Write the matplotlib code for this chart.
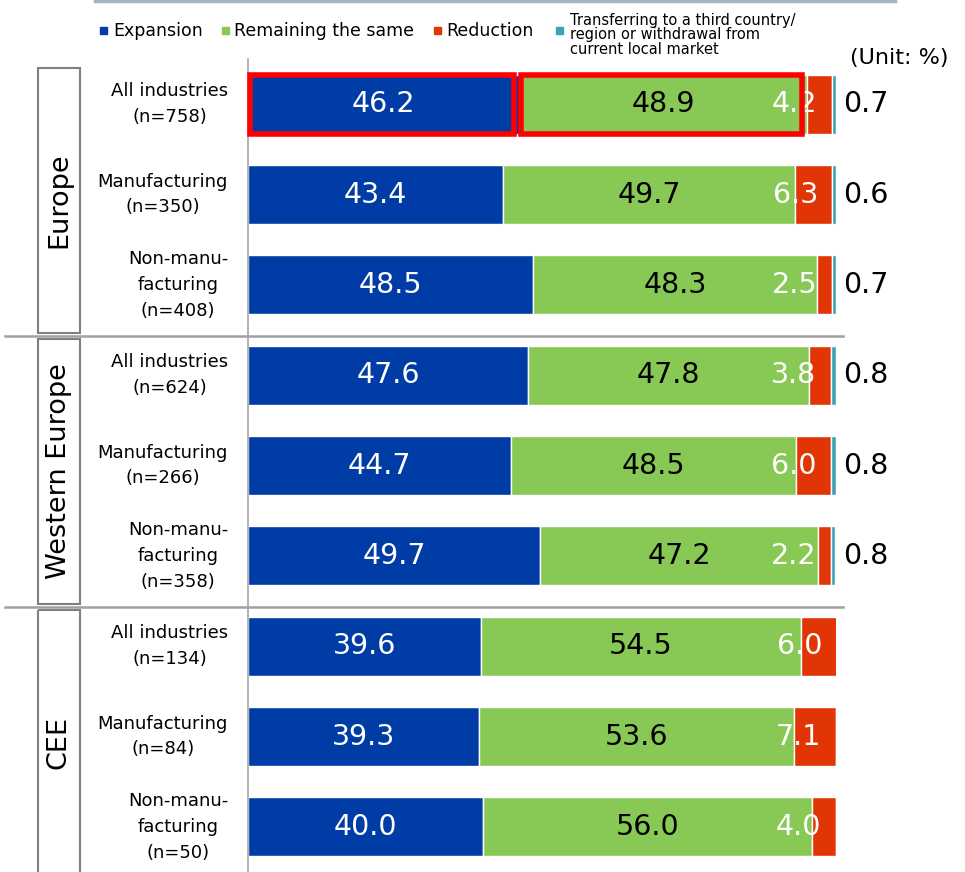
import numpy as np
import matplotlib.pyplot as plt
from matplotlib.patches import Rectangle
from matplotlib.lines import Line2D

# data (Unit: %)
regions = ['Europe', 'Western Europe', 'CEE']
categories = ['All industries\n(n=758)', 'Manufacturing\n(n=350)', 'Non-manu-\nfacturing\n(n=408)',
              'All industries\n(n=624)', 'Manufacturing\n(n=266)', 'Non-manu-\nfacturing\n(n=358)',
              'All industries\n(n=134)', 'Manufacturing\n(n=84)', 'Non-manu-\nfacturing\n(n=50)']
expansion = [46.2, 43.4, 48.5, 47.6, 44.7, 49.7, 39.6, 39.3, 40.0]
same = [48.9, 49.7, 48.3, 47.8, 48.5, 47.2, 54.5, 53.6, 56.0]
reduction = [4.2, 6.3, 2.5, 3.8, 6.0, 2.2, 6.0, 7.1, 4.0]
transfer = [0.7, 0.6, 0.7, 0.8, 0.8, 0.8, 0.0, 0.0, 0.0]
series_names = ['Expansion', 'Remaining the same', 'Reduction',
                'Transferring to a third country/\nregion or withdrawal from\ncurrent local market']
colors = ['#003ca5', '#88c955', '#e23505', '#3ba3b5']

fig = plt.figure(figsize=(9.65, 8.72), dpi=100)
ax = fig.add_axes([248 / 965, 0, 588 / 965, 1 - 59 / 872])

y = np.arange(len(categories))
h = 0.65
left = np.zeros(len(y))
for vals, c in zip([expansion, same, reduction, transfer], colors):
    ax.barh(y, vals, left=left, height=h, color=c, edgecolor='white', linewidth=1)
    left += np.array(vals)

ax.set_xlim(0, 100)
ax.set_ylim(len(y) - 0.5, -0.5)
ax.set_xticks([])
ax.set_yticks([])
for s in ['top', 'right', 'bottom']:
    ax.spines[s].set_visible(False)
ax.spines['left'].set_color('#a6a6a6')
ax.spines['left'].set_linewidth(1.2)

# value labels
fs = 20.5
for i in y:
    e, s, r, t = expansion[i], same[i], reduction[i], transfer[i]
    ax.text(e / 2, i, f'{e:.1f}', color='white', fontsize=fs, ha='center', va='center')
    ax.text(e + s / 2, i, f'{s:.1f}', color='black', fontsize=fs, ha='center', va='center')
    ax.text(e + s + r - 2.5, i, f'{r:.1f}', color='white', fontsize=fs, ha='right', va='center')
    if t > 0:
        ax.text(101.2, i, f'{t:.1f}', color='black', fontsize=fs, ha='left', va='center', clip_on=False)

# red highlight boxes on first row
for x0, w in [(0, expansion[0]), (expansion[0], same[0])]:
    ax.add_patch(Rectangle((x0 + 0.3, -h / 2), w - 1.2, h, fill=False, edgecolor='#ff0000',
                           linewidth=4, clip_on=False, zorder=5))

# category labels
tr = ax.get_yaxis_transform()
for i, lab in zip(y, categories):
    ax.text(-0.034, i, lab, transform=tr, ha='right', va='center', fontsize=13,
            linespacing=1.55, multialignment='center')

# region boxes and separators
for g, name in enumerate(regions):
    top = g * 3 - 0.5 + 0.1
    bottom = g * 3 + 2.5 + 0.03
    ax.add_patch(Rectangle((-0.357, top), 0.071, bottom - top, transform=tr, fill=False,
                           edgecolor='#808080', linewidth=1.5, clip_on=False))
    ax.text(-0.3215, (top + bottom) / 2, name, transform=tr, rotation=90, ha='center',
            va='center', fontsize=19.5)
    if g > 0:
        ax.add_line(Line2D([-0.413, 1.012], [g * 3 - 0.5 + 0.065] * 2, transform=tr,
                           color='#a0a0a0', linewidth=1.8, clip_on=False))

# top rule
fig.add_artist(Line2D([95 / 965, 895 / 965], [1 - 1.5 / 872] * 2, color='#a4b2c6', linewidth=2.5))

# legend
leg_x = [100, 222, 434, 556]
txt_x = [113, 234, 446, 570]
ly = 1 - 31 / 872
for k in range(4):
    fig.add_artist(Rectangle((leg_x[k] / 965, ly - 3.5 / 872), 7 / 965, 7 / 872, color=colors[k],
                             transform=fig.transFigure))
    if k < 3:
        fig.text(txt_x[k] / 965, ly, series_names[k], fontsize=12.5, ha='left', va='center')
    else:
        fig.text(txt_x[k] / 965, 1 - 35 / 872, series_names[k], fontsize=10.5, ha='left',
                 va='center', linespacing=0.95)

fig.text(948 / 965, 1 - 58 / 872, '(Unit: %)', fontsize=16, ha='right', va='center')

fig.savefig('out.png', dpi=100)
